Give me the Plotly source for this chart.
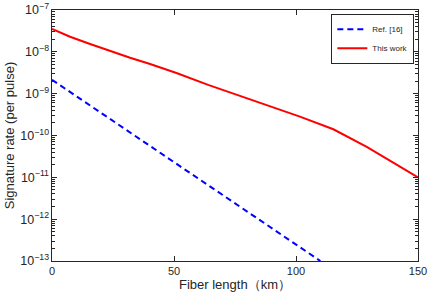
import plotly.graph_objects as go

ref_km = [0, 10, 20, 30, 40, 50, 60, 70, 80, 90, 100, 110]
ref_rate = [2.15e-9, 8.7e-10, 3.5e-10, 1.42e-10, 5.7e-11, 2.3e-11, 9.3e-12, 3.75e-12, 1.5e-12, 6.1e-13, 2.45e-13, 1.0e-13]

this_km = [0, 7.4, 15.6, 23.8, 32, 40.2, 51, 64, 77.7, 90, 101.6, 115.3, 129, 142.6, 150]
this_rate = [3.51e-8, 2.30e-8, 1.54e-8, 1.05e-8, 7.24e-9, 5.13e-9, 3.13e-9, 1.62e-9,
             8.51e-10, 4.79e-10, 2.82e-10, 1.41e-10, 5.37e-11, 1.80e-11, 1.0e-11]

x_ticks = [0, 50, 100, 150]
decades = [-13, -12, -11, -10, -9, -8]
digits = [2, 3, 4, 5, 6, 7, 8, 9]
minor_vals = [d * 10.0 ** e for e in decades for d in digits]

axis_color = "#262626"
font = "Liberation Sans, Arial, sans-serif"

fig = go.Figure()
# y2 is an identical log scale used to carry the minor ticks
fig.add_trace(go.Scatter(x=ref_km, y=ref_rate, mode="lines", name="Ref. [16]", yaxis="y2",
                         line=dict(color="#0000ff", width=2, dash="6px,4px")))
fig.add_trace(go.Scatter(x=this_km, y=this_rate, mode="lines", name="This work",
                         line=dict(color="#ff0000", width=2)))

fig.update_layout(
    width=436, height=300,
    margin=dict(l=52, r=18, t=10, b=39),
    plot_bgcolor="white", paper_bgcolor="white",
    font=dict(family=font, size=11, color=axis_color),
    legend=dict(x=0.99, y=0.985, xanchor="right", yanchor="top",
                bordercolor=axis_color, borderwidth=1, bgcolor="white",
                font=dict(size=8), tracegroupgap=0, itemwidth=30),
    showlegend=True,
    yaxis2=dict(type="log", range=[-13, -7], overlaying="y", anchor="x", side="left",
                tickvals=minor_vals, ticks="inside", ticklen=3, tickcolor=axis_color,
                tickwidth=1, showticklabels=False, showline=True, linecolor=axis_color,
                linewidth=1, mirror="ticks", showgrid=False, zeroline=False,
                automargin=False),
)
fig.update_xaxes(range=[0, 150], tickvals=x_ticks, automargin=False, ticklabeloverflow="allow",
                 ticks="inside", ticklen=5, tickcolor=axis_color,
                 showline=True, linecolor=axis_color, linewidth=1, mirror="ticks",
                 showgrid=False, zeroline=False,
                 title=dict(text="Fiber length（km）", standoff=0),
                 tickfont=dict(size=11))
fig.update_yaxes(selector=dict(overlaying=None), type="log", range=[-13, -7], dtick=1,
                 exponentformat="power", automargin=False, ticklabeloverflow="allow",
                 ticks="inside", ticklen=5, tickcolor=axis_color,
                 showline=True, linecolor=axis_color, linewidth=1, mirror="ticks",
                 showgrid=False, zeroline=False,
                 title=dict(text="Signature rate (per pulse)", standoff=2),
                 tickfont=dict(size=10))

# remove the browser's default 8 px page margin so the figure fills the window
fig.write_html("out.html", config={"displayModeBar": False},
               post_script="document.body.style.margin='0';")
